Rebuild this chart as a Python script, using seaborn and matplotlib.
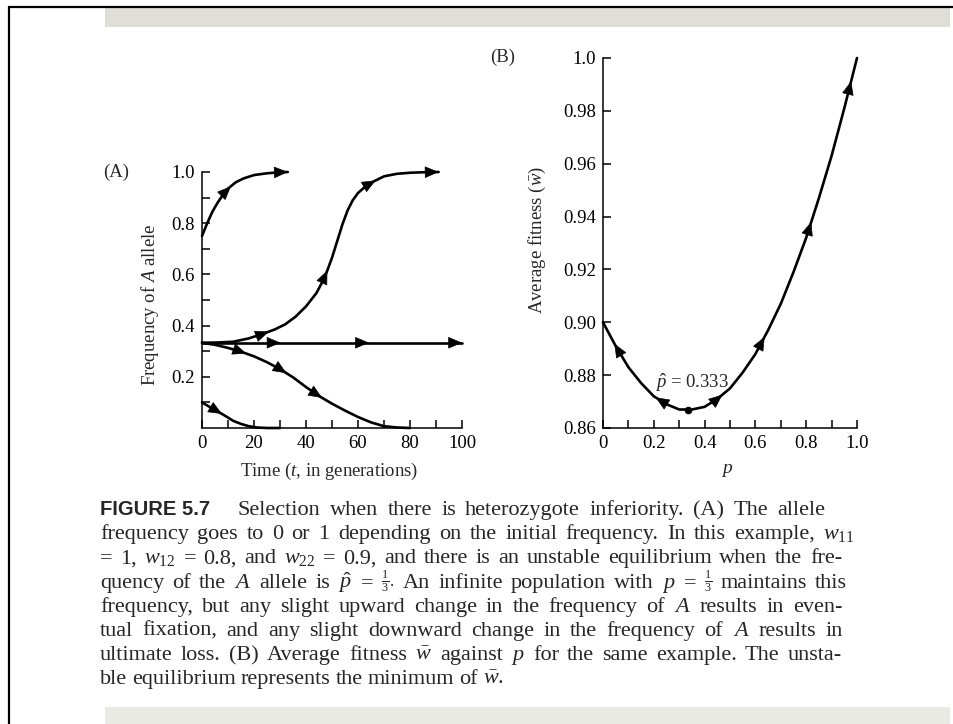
import numpy as np
import pandas as pd
import matplotlib
matplotlib.use("Agg")
import matplotlib.pyplot as plt
import seaborn as sns

# ---------------- data ----------------
# Panel A: allele-frequency trajectories
c1_t = [0, 2, 4, 6, 8, 10, 13, 16, 20, 25, 30, 33]
c1_p = [0.75, 0.80, 0.845, 0.88, 0.91, 0.935, 0.96, 0.975, 0.988, 0.995, 0.999, 1.0]
c2_t = [0, 6, 12, 18, 24, 28, 32, 36, 40, 44, 46, 48, 50, 52, 54, 56, 58, 60, 63, 66, 70,
        75, 80, 85, 91]
c2_p = [0.333, 0.334, 0.337, 0.35, 0.37, 0.385, 0.405, 0.435, 0.475, 0.527, 0.565, 0.61,
        0.665, 0.73, 0.795, 0.85, 0.89, 0.918, 0.945, 0.963, 0.983, 0.993, 0.997, 0.999, 1.0]
c3_t = [0, 100]
c3_p = [0.333, 0.333]
c4_t = [0, 5, 10, 15, 20, 25, 30, 35, 40, 45, 50, 55, 60, 65, 70, 75, 80]
c4_p = [0.333, 0.325, 0.313, 0.298, 0.28, 0.257, 0.23, 0.198, 0.16, 0.125, 0.095, 0.068,
        0.043, 0.022, 0.007, 0.002, 0.0]
c5_t = [0, 3, 6, 9, 12, 15, 18, 21, 25, 30]
c5_p = [0.1, 0.082, 0.065, 0.047, 0.028, 0.016, 0.007, 0.002, 0.0, 0.0]
curves_A = [(c1_t, c1_p), (c2_t, c2_p), (c3_t, c3_p), (c4_t, c4_p), (c5_t, c5_p)]
arrows_A = [[9.6], [24.2, 46.7, 65.3], [28.7, 62.7], [15.5, 31.0, 44.7], [6.2]]
end_arrow_A = [True, True, True, False, False]

# Panel B: average fitness vs p
b_p = [0, 0.05, 0.1, 0.15, 0.2, 0.25, 0.3, 0.35, 0.4, 0.45, 0.5, 0.55, 0.6, 0.65, 0.7,
       0.75, 0.8, 0.85, 0.9, 0.95, 1.0]
b_w = [0.900, 0.891, 0.883, 0.877, 0.872, 0.869, 0.867, 0.867, 0.868, 0.871, 0.875, 0.881,
       0.888, 0.897, 0.907, 0.919, 0.932, 0.947, 0.963, 0.981, 1.0]
b_eq_p = [1 / 3]
b_eq_w = [0.8667]
arrows_B_left = [0.055, 0.217]
arrows_B_right = [0.46, 0.626, 0.81, 0.967]

A_xticks = list(range(0, 101, 10))
A_xlabels = ["0", "", "20", "", "40", "", "60", "", "80", "", "100"]
A_yticks = [round(0.1 * i, 1) for i in range(1, 11)]
A_ylabels = ["", "0.2", "", "0.4", "", "0.6", "", "0.8", "", "1.0"]
B_xticks = [round(0.1 * i, 1) for i in range(0, 11)]
B_xlabels = ["0", "", "0.2", "", "0.4", "", "0.6", "", "0.8", "", "1.0"]
B_yticks = [0.86, 0.88, 0.90, 0.92, 0.94, 0.96, 0.98, 1.0]
B_ylabels = ["0.86", "0.88", "0.90", "0.92", "0.94", "0.96", "0.98", "1.0"]

caption_lines = [
    "Selection when there is heterozygote inferiority. (A) The allele",
    "frequency goes to 0 or 1 depending on the initial frequency. In this example, $w_{11}$",
    "= 1, $w_{12}$ = 0.8, and $w_{22}$ = 0.9, and there is an unstable equilibrium when the fre-",
    "quency of the $A$ allele is $\\hat{p}$ = $\\frac{1}{3}$. An infinite population with $p$ = $\\frac{1}{3}$ maintains this",
    "frequency, but any slight upward change in the frequency of $A$ results in even-",
    "tual fixation, and any slight downward change in the frequency of $A$ results in",
    "ultimate loss. (B) Average fitness $\\bar{w}$ against $p$ for the same example. The unsta-",
    "ble equilibrium represents the minimum of $\\bar{w}$.",
]

# ---------------- style ----------------
sns.set_style("ticks")
plt.rcParams["font.family"] = ["Liberation Serif", "DejaVu Serif"]
plt.rcParams["mathtext.fontset"] = "custom"
plt.rcParams["mathtext.rm"] = "Liberation Serif"
plt.rcParams["mathtext.it"] = "Liberation Serif:italic"
plt.rcParams["mathtext.bf"] = "Liberation Serif:bold"

W, H = 954, 724
fig = plt.figure(figsize=(W / 100, H / 100), dpi=100)
fig.patch.set_facecolor("white")


def fx(x):
    return x / W


def fy(y):
    return 1 - y / H


# frame, grey bars
fig.add_artist(plt.Line2D([fx(9), fx(9)], [fy(7), 0], color="black", lw=1.6))
fig.add_artist(plt.Line2D([fx(9), 1], [fy(7), fy(7)], color="black", lw=1.6))
fig.add_artist(plt.Rectangle((fx(105), fy(27)), fx(845), 20 / H, color="#dfdfd8", lw=0))
fig.add_artist(plt.Rectangle((fx(105), 0), fx(845), 17 / H, color="#eaeae5", lw=0))

axA = fig.add_axes([fx(202), fy(428), 260 / W, 256 / H])
axB = fig.add_axes([fx(603), fy(428), 254 / W, 370 / H])

LW = 1.9
AH = dict(arrowstyle="-|>,head_length=0.75,head_width=0.32", mutation_scale=12,
          color="black", lw=0.5, shrinkA=0, shrinkB=0)


def arrow_at(ax, xs, ys, x_at, forward, dx):
    y_at = np.interp(x_at, xs, ys)
    x0 = x_at - dx if forward else x_at + dx
    y0 = np.interp(x0, xs, ys)
    ax.annotate("", xy=(x_at, y_at), xytext=(x0, y0), arrowprops=AH,
                annotation_clip=False)


# ---------------- panel A ----------------
rows = []
for i, (t, p) in enumerate(curves_A):
    for tt, pp in zip(t, p):
        rows.append({"t": tt, "p": pp, "curve": i})
dfA = pd.DataFrame(rows)
sns.lineplot(data=dfA, x="t", y="p", units="curve", estimator=None, sort=False,
             color="black", lw=LW, ax=axA, legend=False)
for ln in axA.lines:
    ln.set_clip_on(False)
for (t, p), arr, end in zip(curves_A, arrows_A, end_arrow_A):
    for a in arr:
        arrow_at(axA, t, p, a + 1.5, True, 2.0)
    if end:
        arrow_at(axA, t, p, t[-1], True, 2.0)

axA.set_xlim(0, 100)
axA.set_ylim(0, 1.0)
axA.set_xticks(A_xticks)
axA.set_xticklabels(A_xlabels)
axA.set_yticks(A_yticks)
axA.set_yticklabels(A_ylabels)

# ---------------- panel B ----------------
dfB = pd.DataFrame({"p": b_p, "w": b_w})
sns.lineplot(data=dfB, x="p", y="w", color="black", lw=LW, ax=axB, sort=False)
for ln in axB.lines:
    ln.set_clip_on(False)
sns.scatterplot(x=b_eq_p, y=b_eq_w, color="black", s=30, ax=axB, zorder=5, linewidth=0)
for a in arrows_B_left:
    arrow_at(axB, b_p, b_w, a - 0.01, False, 0.02)
for a in arrows_B_right:
    arrow_at(axB, b_p, b_w, a + 0.01, True, 0.02)
axB.text(0.35, 0.8772, "$\\hat{p}$ = 0.333", ha="center", va="center", fontsize=13.5)

axB.set_xlim(0, 1.0)
axB.set_ylim(0.86, 1.0)
axB.set_xticks(B_xticks)
axB.set_xticklabels(B_xlabels)
axB.set_yticks(B_yticks)
axB.set_yticklabels(B_ylabels)

for ax in (axA, axB):
    sns.despine(ax=ax)
    ax.set_facecolor("white")
    for s in ("left", "bottom"):
        ax.spines[s].set_linewidth(1.1)
        ax.spines[s].set_color("black")
    ax.tick_params(direction="in", length=6, width=1.1, colors="black",
                   labelsize=13.5, pad=5)

axA.set_xlabel("Time ($t$, in generations)", fontsize=13.5, va="center")
axA.xaxis.set_label_coords(0.49, -0.17)
axA.set_ylabel("Frequency of $A$ allele", fontsize=13.5, va="center")
axA.yaxis.set_label_coords(-0.2, 0.48)
axB.set_xlabel("$p$", fontsize=14, va="center")
axB.xaxis.set_label_coords(0.49, -0.115)
axB.set_ylabel("Average fitness ($\\bar{w}$)", fontsize=13.5, va="center")
axB.yaxis.set_label_coords(-0.26, 0.508)

fig.text(fx(103), fy(172), "(A)", fontsize=13.5, ha="left", va="center")
fig.text(fx(490), fy(57), "(B)", fontsize=13.5, ha="left", va="center")

# ---------------- caption (justified word by word) ----------------
renderer = fig.canvas.get_renderer()
CAP_FS = 16
fig.text(fx(100), fy(515), "FIGURE 5.7", fontsize=14.5, fontweight="bold",
         family=["Liberation Sans", "DejaVu Sans"], ha="left", va="baseline")

line_left = [238, 100, 100, 100, 100, 100, 100, 100]
line_right = [825, 855, 842, 847, 842, 843, 842, None]


def place_words(line, y, x0, x1):
    words = line.split(" ")
    texts = []
    for w in words:
        fs = 12.5 if "frac" in w else CAP_FS
        yy = y - 1 if "frac" in w else y
        texts.append(fig.text(0, fy(yy), w, fontsize=fs, ha="left", va="baseline"))
    widths = [t.get_window_extent(renderer=renderer).width for t in texts]
    if x1 is None:
        gap = 5.0
    else:
        gap = (x1 - x0 - sum(widths)) / (len(words) - 1)
    x = x0
    for t, wdt in zip(texts, widths):
        t.set_x(fx(x))
        x += wdt + gap


for i, line in enumerate(caption_lines):
    place_words(line, 515 + 24.2 * i, line_left[i], line_right[i])

fig.savefig("out.png", dpi=100)
